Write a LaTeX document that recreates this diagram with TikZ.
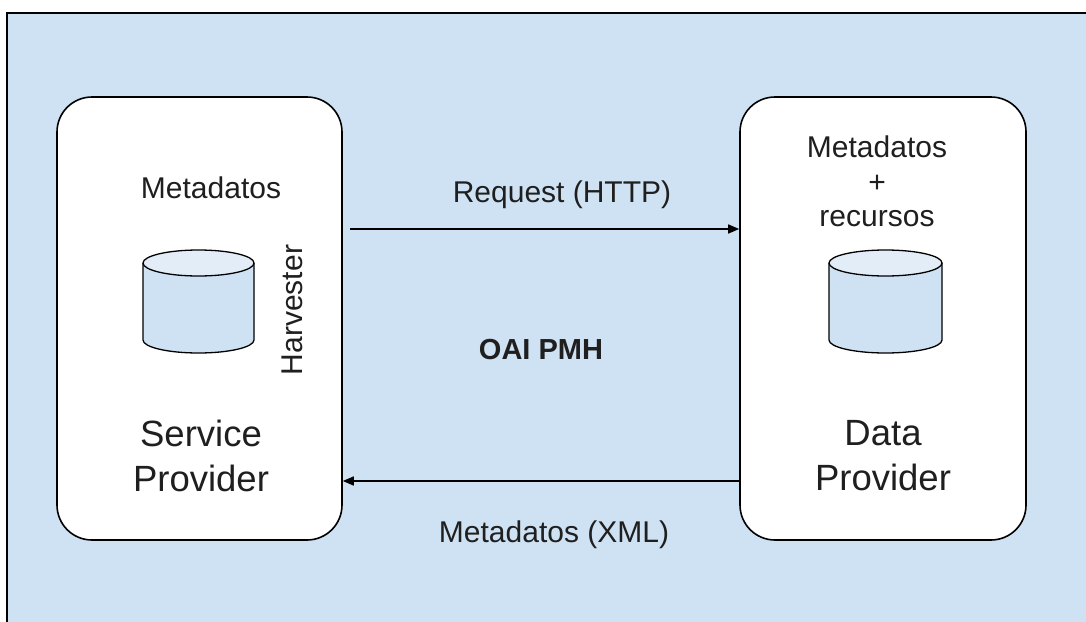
\documentclass[tikz,border=0pt]{standalone}
\usepackage{fontspec}
\setmainfont{Liberation Sans}
\usetikzlibrary{arrows.meta}
\definecolor{bgblue}{HTML}{CFE2F3}
\definecolor{topblue}{HTML}{E3EDF7}
\begin{document}
\begin{tikzpicture}[x=1pt,y=-1pt,
  provider/.style={draw=black, line width=1.6pt, fill=white, rounded corners=35pt, minimum width=285pt, minimum height=443pt, inner sep=0pt},
  lbl/.style={font=\fontsize{30}{34.5}\selectfont, inner sep=0pt, text=black!88},
  big/.style={font=\fontsize{36.5}{45}\selectfont, inner sep=0pt, align=center, text=black!88},
  arr/.style={line width=1.5pt, -{Triangle[length=11pt,width=9pt]}},
  cylbody/.style={draw=black, line width=1.3pt, fill=bgblue},
  cyltop/.style={draw=black, line width=1.3pt, fill=topblue}]
\useasboundingbox (0,0) rectangle (1086,621);
\draw[line width=1.6pt, fill=bgblue] (7,13) rectangle (1110,650);
% provider boxes
\node[provider] (sp) at (199.5,318.5) {};
\node[provider, minimum width=286pt] (dp) at (883,318.5) {};
% cylinders
\path[cylbody] (143,263) -- (143,340) arc[start angle=180, end angle=360, x radius=55.5pt, y radius=13pt] -- (254,263);
\draw[cyltop] (198.5,263) ellipse [x radius=55.5pt, y radius=13pt];
\path[cylbody] (829,263) -- (829,340) arc[start angle=180, end angle=360, x radius=56.5pt, y radius=13pt] -- (942,263);
\draw[cyltop] (885.5,263) ellipse [x radius=56.5pt, y radius=13pt];
% texts
\node[lbl, anchor=base] (spmeta) at (211,198) {Metadatos};
\node[lbl, anchor=base, rotate=90] (harv) at (302,310) {Harvester};
\node[big] (spname) at (201,456) {Service\\Provider};
\node[lbl, align=center] (dpmeta) at (877,181.5) {Metadatos\\+\\recursos};
\node[big] (dpname) at (883,456) {Data\\Provider};
\node[lbl, anchor=base] (req) at (562,202) {Request (HTTP)};
\node[lbl, anchor=base] (xml) at (554,542) {Metadatos (XML)};
\node[lbl, anchor=base, font=\bfseries\fontsize{29}{34}\selectfont] (oai) at (541,359) {OAI PMH};
% connectors
\coordinate (reqstart) at (350,229);
\draw[arr] (reqstart) -- (reqstart -| dp.west);
\coordinate (xmly) at (0,481);
\draw[arr] (dp.west |- xmly) -- (sp.east |- xmly);
\end{tikzpicture}
\end{document}
